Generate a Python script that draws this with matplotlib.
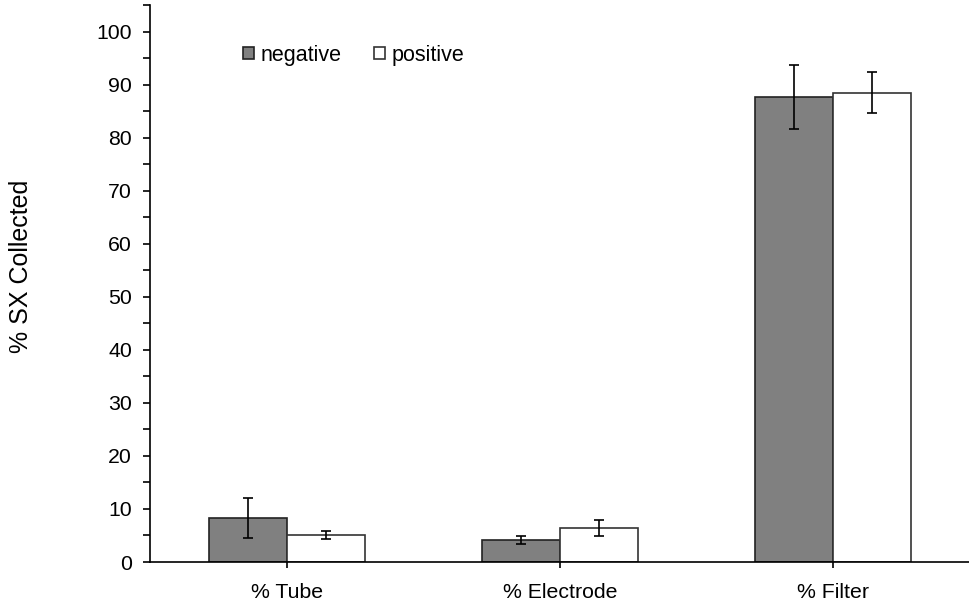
import numpy as np
import matplotlib.pyplot as plt
from matplotlib.ticker import MultipleLocator

categories = ["% Tube", "% Electrode", "% Filter"]
negative = [8.25, 4.15, 87.6]
negative_err = [3.75, 0.75, 6.05]
positive = [5.05, 6.4, 88.5]
positive_err = [0.7, 1.55, 3.8]

plt.rcParams["font.family"] = ["Liberation Sans", "DejaVu Sans"]

fig = plt.figure(figsize=(9.7, 6.09), dpi=100)
ax = fig.add_axes([150 / 970, 1 - 562 / 609, 820 / 970, 557 / 609])

x = np.arange(len(categories))
w = 0.285
err_kw = dict(ecolor="black", elinewidth=1.2, capsize=3.6, capthick=1.2)
ax.bar(x - w / 2, negative, w, yerr=negative_err, color="#808080",
       edgecolor="#222222", linewidth=1.2, label="negative", error_kw=err_kw)
ax.bar(x + w / 2, positive, w, yerr=positive_err, color="white",
       edgecolor="#333333", linewidth=1.2, label="positive", error_kw=err_kw)

ax.set_xlim(-0.5, 2.5)
ax.set_ylim(0, 105)
ax.set_xticks(x)
ax.set_xticklabels(categories, fontsize=15.3)
ax.yaxis.set_major_locator(MultipleLocator(10))
ax.yaxis.set_minor_locator(MultipleLocator(5))
ax.set_yticks(range(0, 101, 10))
ax.tick_params(axis="y", which="both", direction="out", length=5, width=1.2,
               labelsize=15.3, pad=8)
ax.tick_params(axis="x", direction="out", length=4, width=1.2, pad=11)

for s in ["top", "right"]:
    ax.spines[s].set_visible(False)
for s in ["left", "bottom"]:
    ax.spines[s].set_linewidth(1.2)

fig.text(21 / 970, 1 - 266 / 609, "% SX Collected", rotation=90,
         ha="center", va="center", fontsize=18)

ax.legend(ncol=2, frameon=False, fontsize=15.5, loc="center left",
          bbox_to_anchor=(224 / 970, 1 - 55 / 609), bbox_transform=fig.transFigure,
          handlelength=0.5, handleheight=0.5, handletextpad=0.3,
          columnspacing=1.5)

fig.savefig("out.png", dpi=100)
